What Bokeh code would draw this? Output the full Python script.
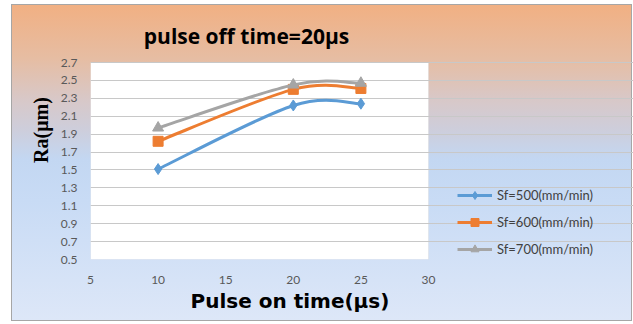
import numpy as np
from bokeh.plotting import figure
from bokeh.models import Range1d, FixedTicker, Title, Legend, LegendItem, Label, BoxAnnotation
from bokeh.embed import file_html
from bokeh.resources import INLINE

# ---- data ----
pulse_on = [10, 20, 25]
sf500 = [1.51, 2.22, 2.24]
sf600 = [1.82, 2.40, 2.41]
sf700 = [1.97, 2.45, 2.47]
series_names = ["Sf=500(mm/min)", "Sf=600(mm/min)", "Sf=700(mm/min)"]
x_ticks = [5, 10, 15, 20, 25, 30]
y_ticks = [0.5, 0.7, 0.9, 1.1, 1.3, 1.5, 1.7, 1.9, 2.1, 2.3, 2.5, 2.7]
y_tick_labels = ["0.5", "0.7", "0.9", "1.1", "1.3", "1.5", "1.7", "1.9", "2.1", "2.3", "2.5", "2.7"]
title_text = "pulse off time=20\u03bcs"
x_title = "Pulse on time(\u03bcs)"
y_title = "Ra(\u03bcm)"

colors = ["#5B9BD5", "#ED7D31", "#A5A5A5"]
markers = ["diamond", "square", "triangle"]
marker_sizes = [11, 10, 11]

# ---- layout (pixels) ----
W, H = 633, 324
FRAME_L, FRAME_B = 90, 259          # frame extends to the right and top canvas edges
AREA_R, AREA_T = 428, 62            # plot-area right / top edges
x0, x1 = x_ticks[0], x_ticks[-1]
y0, y1 = y_ticks[0], y_ticks[-1]
x_end = x0 + (x1 - x0) * (W - FRAME_L) / (AREA_R - FRAME_L)
y_end = y0 + (y1 - y0) * FRAME_B / (FRAME_B - AREA_T)

p = figure(width=W, height=H, output_backend="svg", toolbar_location=None,
           x_range=Range1d(x0, x_end), y_range=Range1d(y0, y_end),
           min_border_left=FRAME_L, min_border_right=0, min_border_top=0,
           min_border_bottom=H - FRAME_B)

p.border_fill_alpha = 0
p.background_fill_alpha = 0
p.outline_line_color = None
grad = ("linear-gradient(to bottom, #F1B083 0%, #E6BDA3 17%, #D8C8C8 30%, #CDCEDC 40%, "
        "#C3D7F2 49%, #C8DBF5 62%, #DDE7F8 100%) 12px 5px / 619px 315px no-repeat, "
        "linear-gradient(#A6A6A6, #A6A6A6) 11px 4px / 621px 317px no-repeat, #FFFFFF")
p.styles = {"background": grad}

# white plot area
p.add_layout(BoxAnnotation(left=x0, right=x1, bottom=y0, top=y1, fill_color="white",
                           fill_alpha=1, line_color="#D0D0D0", line_width=1, level="image"))

p.xgrid.visible = False
p.ygrid.grid_line_color = "#C8C8C8"
p.ygrid.ticker = FixedTicker(ticks=y_ticks)
p.ygrid.bounds = (x0, x1)

p.xaxis.ticker = FixedTicker(ticks=x_ticks)
p.yaxis.ticker = FixedTicker(ticks=y_ticks)
p.xaxis.bounds = (x0, x1)
p.yaxis.bounds = (y0, y1)
p.yaxis.major_label_overrides = {t: s for t, s in zip(y_ticks, y_tick_labels)}
for ax in (p.xaxis[0], p.yaxis[0]):
    ax.axis_line_color = None
    ax.major_tick_line_color = None
    ax.minor_tick_line_color = None
    ax.major_tick_out = 0
    ax.major_tick_in = 0
    ax.major_label_text_font = "Lato"
    ax.major_label_text_font_size = "12px"
    ax.major_label_text_color = "#595959"
p.xaxis.major_label_standoff = 16
p.yaxis.major_label_standoff = 13
p.yaxis.axis_label = y_title
p.yaxis.axis_label_text_font = "Liberation Serif"
p.yaxis.axis_label_text_font_style = "bold"
p.yaxis.axis_label_text_font_size = "20px"
p.yaxis.axis_label_text_color = "#000000"
p.yaxis.axis_label_standoff = 6


def smooth_segments(xs, ys):
    xs = np.asarray(xs, float)
    ys = np.asarray(ys, float)
    n = len(xs)
    out = {k: [] for k in ("x0", "y0", "x1", "y1", "cx0", "cy0", "cx1", "cy1")}
    for i in range(n - 1):
        im = max(i - 1, 0)
        ip2 = min(i + 2, n - 1)
        out["x0"].append(xs[i]); out["y0"].append(ys[i])
        out["x1"].append(xs[i + 1]); out["y1"].append(ys[i + 1])
        out["cx0"].append(xs[i] + (xs[i + 1] - xs[im]) / 6)
        out["cy0"].append(ys[i] + (ys[i + 1] - ys[im]) / 6)
        out["cx1"].append(xs[i + 1] - (xs[ip2] - xs[i]) / 6)
        out["cy1"].append(ys[i + 1] - (ys[ip2] - ys[i]) / 6)
    return out


items = []
for ys, name, c, m, ms in zip([sf500, sf600, sf700], series_names, colors, markers, marker_sizes):
    seg = smooth_segments(pulse_on, ys)
    lr = p.bezier(line_color=c, line_width=3, **seg)
    sr = p.scatter(pulse_on, ys, marker=m, size=ms, fill_color=c, line_color=c)
    items.append(LegendItem(label=name, renderers=[lr, sr]))

legend = Legend(items=items, location=(457 - FRAME_L, 0), glyph_width=35, glyph_height=20,
                label_height=20, spacing=7, padding=0, margin=0, label_standoff=5,
                border_line_alpha=0, background_fill_alpha=0,
                label_text_font="Lato", label_text_font_size="13px",
                label_text_color="#404040")
p.add_layout(legend, "center")

p.add_layout(Label(x=246 - FRAME_L, y=FRAME_B - 35, x_units="screen", y_units="screen",
                   text=title_text, text_font="Open Sans", text_font_style="bold",
                   text_font_size="21px", text_align="center", text_baseline="alphabetic",
                   text_color="#000000"))
p.add_layout(Title(text=x_title, align="left", offset=100, standoff=0,
                   text_font="DejaVu Sans", text_font_style="bold", text_font_size="20px",
                   text_color="#000000"), "below")

open("out.html", "w").write(file_html(p, INLINE))
